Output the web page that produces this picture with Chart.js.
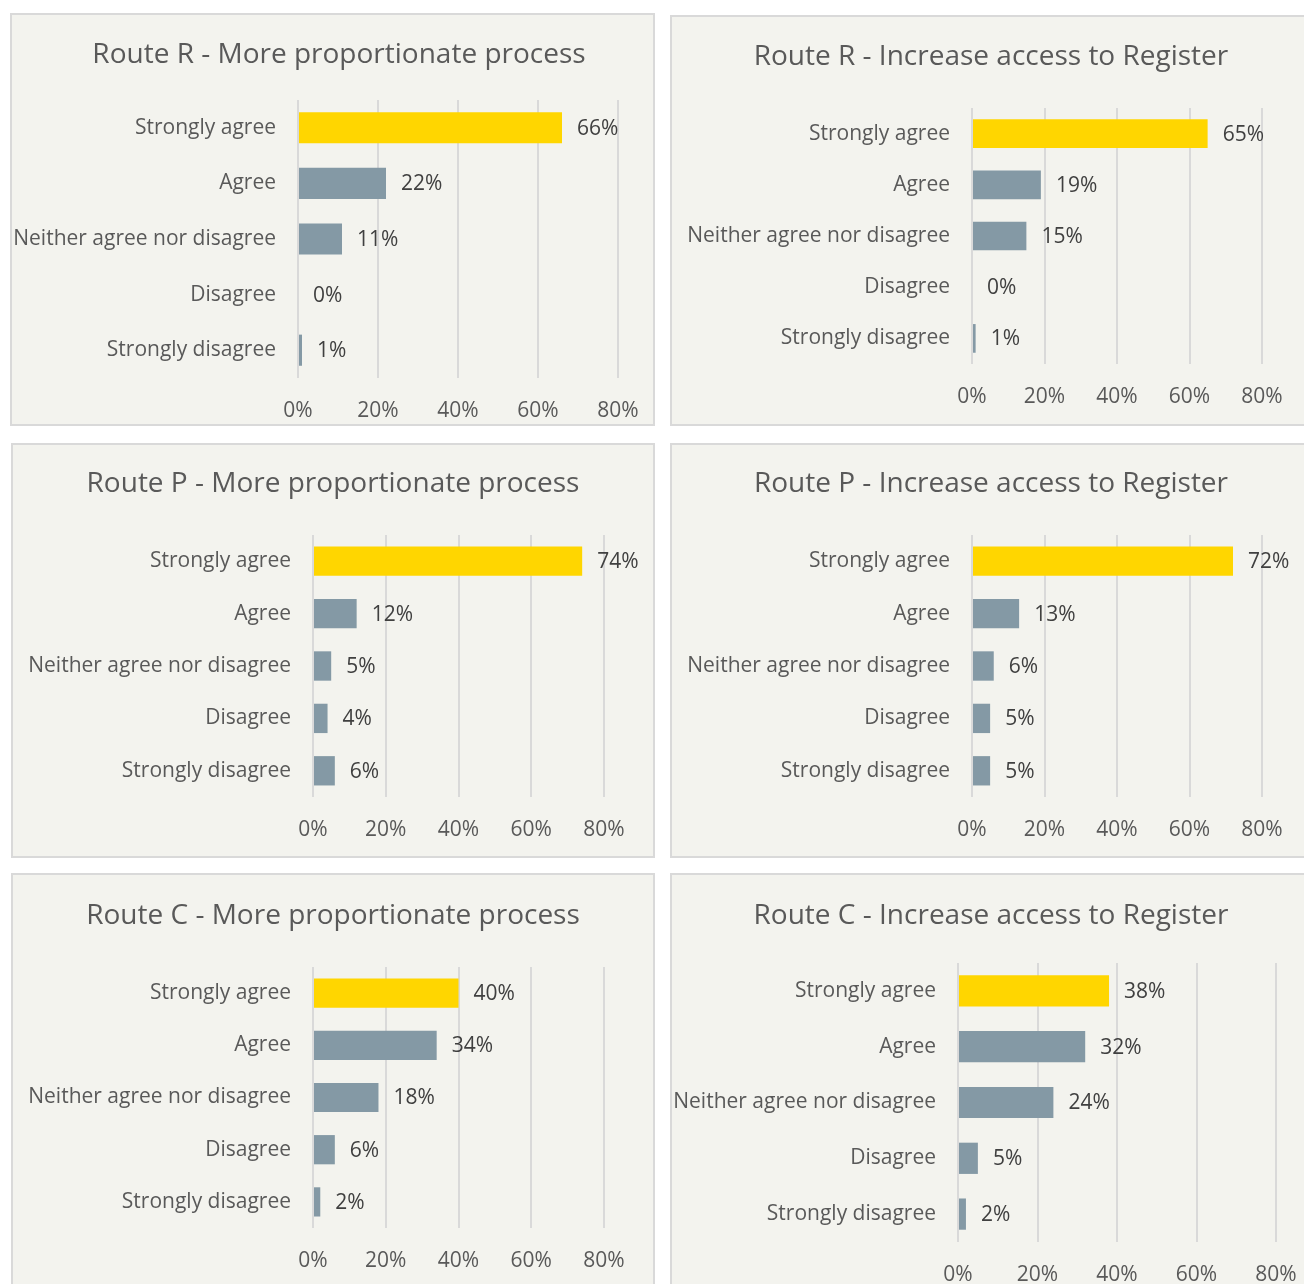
<!DOCTYPE html>
<html>
<head>
<meta charset="utf-8">
<script src="https://cdn.jsdelivr.net/npm/chart.js@4.4.1/dist/chart.umd.min.js"></script>
<style>
  html, body { margin: 0; padding: 0; background: #ffffff; overflow: hidden; }
  body { width: 1304px; height: 1284px; position: relative; }
  .panel {
    position: absolute;
    box-sizing: border-box;
    border: 2px solid #d9d9d9;
    background: #f3f3ee;
  }
  .panel canvas { position: absolute; left: 0; top: 0; }
</style>
</head>
<body>
<script>
// data
const categories = ["Strongly agree", "Agree", "Neither agree nor disagree", "Disagree", "Strongly disagree"];
const routeRProportionate = [66, 22, 11, 0, 1];
const routeRAccess = [65, 19, 15, 0, 1];
const routePProportionate = [74, 12, 5, 4, 6];
const routePAccess = [72, 13, 6, 5, 5];
const routeCProportionate = [40, 34, 18, 6, 2];
const routeCAccess = [38, 32, 24, 5, 2];
const tickValues = [0, 20, 40, 60, 80];
const titles = [
  "Route R - More proportionate process",
  "Route R - Increase access to Register",
  "Route P - More proportionate process",
  "Route P - Increase access to Register",
  "Route C - More proportionate process",
  "Route C - Increase access to Register",
];
const seriesList = [routeRProportionate, routeRAccess, routePProportionate, routePAccess, routeCProportionate, routeCAccess];

// layout of each panel (outer box, plot area and title centre, relative to the box)
const layouts = [
  { box: [10, 13, 645, 413], plot: [288, 608, 87, 365], title: [329, 42] },
  { box: [670, 15, 645, 411], plot: [302, 592, 93, 349], title: [321, 42] },
  { box: [11, 443, 644, 415], plot: [302, 593, 92, 354], title: [322, 41] },
  { box: [670, 443, 645, 415], plot: [302, 592, 92, 354], title: [321, 41] },
  { box: [11, 873, 644, 413], plot: [302, 593, 94, 355], title: [322, 43] },
  { box: [670, 873, 645, 413], plot: [288, 606, 90, 369], title: [321, 43] },
];

const BORDER = 2;
const FONT = "'Open Sans', sans-serif";
const YELLOW = "#ffd600";
const GREY = "#8499a5";

const titlePlugin = {
  id: "panelTitle",
  afterDraw(chart, args, opts) {
    const ctx = chart.ctx;
    ctx.save();
    ctx.font = "28px " + FONT;
    ctx.fillStyle = "#595959";
    ctx.textAlign = "center";
    ctx.textBaseline = "middle";
    ctx.fillText(opts.text, opts.x, opts.y);
    ctx.restore();
  },
};

const valueLabels = {
  id: "valueLabels",
  afterDatasetsDraw(chart) {
    const ctx = chart.ctx;
    const meta = chart.getDatasetMeta(0);
    const values = chart.data.datasets[0].data;
    ctx.save();
    ctx.font = "21px " + FONT;
    ctx.fillStyle = "#404040";
    ctx.textAlign = "left";
    ctx.textBaseline = "middle";
    meta.data.forEach((bar, i) => {
      ctx.fillText(values[i] + "%", bar.x + 15, bar.y + 1);
    });
    ctx.restore();
  },
};

seriesList.forEach((values, idx) => {
  const lay = layouts[idx];
  const [left, top, width, height] = lay.box;
  const [pl, pr, pt, pb] = lay.plot.map((v) => v - BORDER);
  const cw = width - BORDER * 2;
  const ch = height - BORDER * 2;

  const panel = document.createElement("div");
  panel.className = "panel";
  panel.style.left = left + "px";
  panel.style.top = top + "px";
  panel.style.width = width + "px";
  panel.style.height = height + "px";
  const canvas = document.createElement("canvas");
  canvas.width = cw;
  canvas.height = ch;
  canvas.style.width = cw + "px";
  canvas.style.height = ch + "px";
  panel.appendChild(canvas);
  document.body.appendChild(panel);

  new Chart(canvas, {
    type: "bar",
    data: {
      labels: categories,
      datasets: [
        {
          data: values,
          backgroundColor: values.map((v, i) => (i === 0 ? YELLOW : GREY)),
          borderWidth: 0,
          barPercentage: 0.56,
          categoryPercentage: 1,
        },
      ],
    },
    options: {
      indexAxis: "y",
      responsive: false,
      animation: false,
      devicePixelRatio: 1,
      layout: { padding: { left: 0, top: pt, right: cw - pr, bottom: 0 } },
      plugins: {
        legend: { display: false },
        tooltip: { enabled: false },
        panelTitle: { text: titles[idx], x: lay.title[0] - BORDER, y: lay.title[1] - BORDER },
      },
      scales: {
        x: {
          min: 0,
          max: 80,
          afterBuildTicks: (scale) => {
            scale.ticks = tickValues.map((v) => ({ value: v }));
          },
          afterFit: (scale) => {
            scale.height = ch - pb;
          },
          // invisible tick marks give the gap below the plot without widening the right padding
          grid: { color: "#d9d9d9", lineWidth: 2, drawTicks: true, tickLength: 20, tickColor: "rgba(0,0,0,0)" },
          border: { display: false },
          ticks: {
            padding: 0,
            color: "#595959",
            font: { family: FONT, size: 21 },
            callback: (v) => v + "%",
          },
        },
        y: {
          afterFit: (scale) => {
            scale.width = pl;
          },
          grid: { display: false, drawTicks: false },
          border: { display: false },
          ticks: {
            padding: 22,
            color: "#595959",
            font: { family: FONT, size: 21 },
          },
        },
      },
    },
    plugins: [titlePlugin, valueLabels],
  });
});
</script>
</body>
</html>
